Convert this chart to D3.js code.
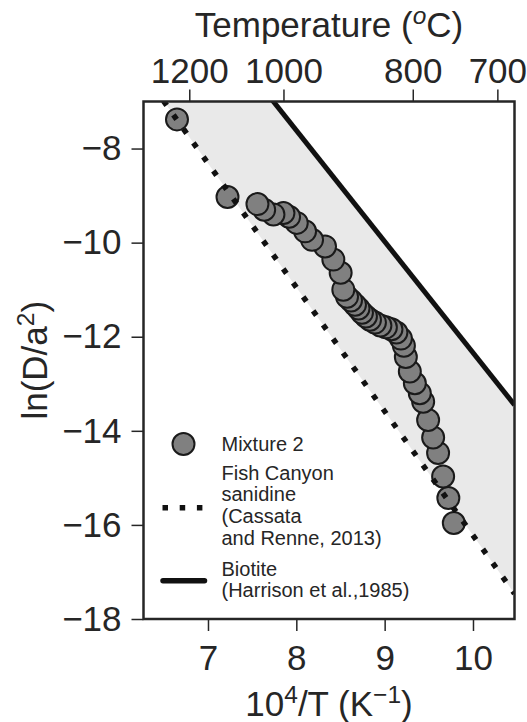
<!DOCTYPE html>
<html>
<head>
<meta charset="utf-8">
<script src="https://cdn.jsdelivr.net/npm/d3@7"></script>
<style>
  html, body { margin: 0; padding: 0; background: #fff; }
  svg { display: block; }
  text { font-family: "Liberation Sans", Arial, Helvetica, sans-serif; fill: #262626; }
</style>
</head>
<body>
<svg id="chart" width="527" height="722"></svg>
<script>
// ---- Data ----
// Mixture 2 step-heating results, in experimental order (low temperature first)
const mixX = [9.783, 9.721, 9.662, 9.605, 9.549, 9.492, 9.436, 9.398, 9.342, 9.285,
              9.240, 9.218, 9.184, 9.133, 9.077, 9.014, 8.952, 8.890, 8.834, 8.788,
              8.743, 8.704, 8.664, 8.619, 8.574, 8.532, 8.502, 8.419, 8.325, 8.178,
              8.099, 8.005, 7.918, 7.854, 7.741, 7.636, 7.560, 7.221, 6.649];
const mixY = [-15.96, -15.43, -14.97, -14.47, -14.14, -13.77, -13.38, -13.20, -12.99, -12.74,
              -12.43, -12.19, -12.04, -11.91, -11.84, -11.80, -11.76, -11.70, -11.64, -11.57,
              -11.49, -11.40, -11.32, -11.23, -11.15, -11.00, -10.64, -10.36, -10.08, -9.94,
              -9.76, -9.58, -9.45, -9.37, -9.40, -9.30, -9.18, -9.03, -7.38];
// Fish Canyon sanidine Arrhenius line (Cassata and Renne, 2013)
const fishX = [6.27, 10.47];
const fishY = [-6.39, -17.46];
// Biotite Arrhenius line (Harrison et al., 1985)
const bioX = [7.0, 10.47];
const bioY = [-5.25, -13.45];
// Axes
const xDomain = [6.27, 10.47];
const yDomain = [-18, -7];
const xTicks = [7, 8, 9, 10];
const yTicks = [-8, -10, -12, -14, -16, -18];
const tempTicks = [1200, 1000, 800, 700]; // deg C on top axis

// ---- Layout ----
const svg = d3.select("#chart");
const L = 143.5, R = 514.5, T = 101.5, B = 619;
const x = d3.scaleLinear().domain(xDomain).range([L, R]);
const y = d3.scaleLinear().domain(yDomain).range([B, T]);
const ink = "#262626";

svg.append("rect").attr("width", 527).attr("height", 722).attr("fill", "#fff");

svg.append("defs").append("clipPath").attr("id", "clip")
  .append("rect").attr("x", L).attr("y", T).attr("width", R - L).attr("height", B - T);

const plot = svg.append("g").attr("clip-path", "url(#clip)");

// shaded band between the two lines
const band = fishX.map((v, i) => [v, fishY[i]]).concat(bioX.map((v, i) => [v, bioY[i]]).reverse());
plot.append("path")
  .attr("d", d3.line().x(d => x(d[0])).y(d => y(d[1]))(band) + "Z")
  .attr("fill", "#e9e9e9");

// markers
plot.selectAll("circle.mix").data(mixX.map((v, i) => [v, mixY[i]]))
  .join("circle").attr("class", "mix")
  .attr("cx", d => x(d[0])).attr("cy", d => y(d[1])).attr("r", 11)
  .attr("fill", "#808080").attr("stroke", "#1a1a1a").attr("stroke-width", 2);

const line = d3.line().x(d => x(d[0])).y(d => y(d[1]));
plot.append("path").attr("d", line(fishX.map((v, i) => [v, fishY[i]])))
  .attr("fill", "none").attr("stroke", "#111").attr("stroke-width", 5.5)
  .attr("stroke-dasharray", "5.5 11.7");
plot.append("path").attr("d", line(bioX.map((v, i) => [v, bioY[i]])))
  .attr("fill", "none").attr("stroke", "#111").attr("stroke-width", 5);

// frame
svg.append("rect").attr("x", L).attr("y", T).attr("width", R - L).attr("height", B - T)
  .attr("fill", "none").attr("stroke", ink).attr("stroke-width", 2.5);

// axes
function styleAxis(g) {
  g.select(".domain").remove();
  g.selectAll(".tick line").attr("stroke", ink).attr("stroke-width", 1.5);
  g.selectAll(".tick text").attr("font-size", 35).attr("fill", ink)
    .attr("font-family", '"Liberation Sans", Arial, Helvetica, sans-serif');
}
svg.append("g").attr("transform", `translate(${L},0)`)
  .call(d3.axisLeft(y).tickValues(yTicks).tickSize(12).tickPadding(10).tickFormat(d3.format("d")))
  .call(styleAxis);
svg.append("g").attr("transform", `translate(0,${B})`)
  .call(d3.axisBottom(x).tickValues(xTicks).tickSize(12).tickPadding(14).tickFormat(d3.format("d")))
  .call(styleAxis);
const tempToX = t => 1e4 / (t + 273.15);
svg.append("g").attr("transform", `translate(0,${T})`)
  .call(d3.axisTop(d3.scaleLinear().domain([tempToX(tempTicks[0]) , tempToX(tempTicks[3])])
          .range([x(tempToX(tempTicks[0])), x(tempToX(tempTicks[3]))]))
        .tickValues(tempTicks.map(tempToX)).tickSize(12).tickPadding(7)
        .tickFormat((d, i) => String(tempTicks[i])))
  .call(styleAxis);

// axis titles
const fs = 35;
const t1 = svg.append("text").attr("x", (L + R) / 2).attr("y", 37).attr("text-anchor", "middle")
  .attr("font-size", fs);
t1.append("tspan").text("Temperature (");
t1.append("tspan").text("o").attr("font-size", fs * 0.7).attr("font-style", "italic").attr("dy", -13);
t1.append("tspan").text("C)").attr("font-size", fs).attr("dy", 13);

const t2 = svg.append("text").attr("x", (L + R) / 2).attr("y", 716).attr("text-anchor", "middle")
  .attr("font-size", fs);
t2.append("tspan").text("10");
t2.append("tspan").text("4").attr("font-size", fs * 0.7).attr("dy", -13);
t2.append("tspan").text("/T (K").attr("font-size", fs).attr("dy", 13);
t2.append("tspan").text("\u22121").attr("font-size", fs * 0.7).attr("dy", -13);
t2.append("tspan").text(")").attr("font-size", fs).attr("dy", 13);

const t3 = svg.append("text").attr("transform", `translate(47,${(T + B) / 2}) rotate(-90)`)
  .attr("text-anchor", "middle").attr("font-size", fs);
t3.append("tspan").text("ln(D/a");
t3.append("tspan").text("2").attr("font-size", fs * 0.7).attr("dy", -13);
t3.append("tspan").text(")").attr("font-size", fs).attr("dy", 13);

// legend
const lg = svg.append("g");
const lfs = 20;
lg.append("circle").attr("cx", 183.5).attr("cy", 444).attr("r", 11)
  .attr("fill", "#808080").attr("stroke", "#1a1a1a").attr("stroke-width", 2);
lg.append("line").attr("x1", 162.5).attr("x2", 205).attr("y1", 507.7).attr("y2", 507.7)
  .attr("stroke", "#111").attr("stroke-width", 5.5).attr("stroke-dasharray", "5.5 11.7");
lg.append("line").attr("x1", 163).attr("x2", 204.5).attr("y1", 580.7).attr("y2", 580.7)
  .attr("stroke", "#111").attr("stroke-width", 5.5).attr("stroke-linecap", "round");
const legendLines = [
  ["Mixture 2", 443.3],
  ["Fish Canyon", 472.7], ["sanidine", 494], ["(Cassata", 516], ["and Renne, 2013)", 537.3],
  ["Biotite", 568.3], ["(Harrison et al.,1985)", 590]
];
lg.selectAll("text").data(legendLines).join("text")
  .attr("x", 221.5).attr("y", d => d[1]).attr("dy", "0.36em")
  .attr("font-size", lfs).text(d => d[0]);
</script>
</body>
</html>
